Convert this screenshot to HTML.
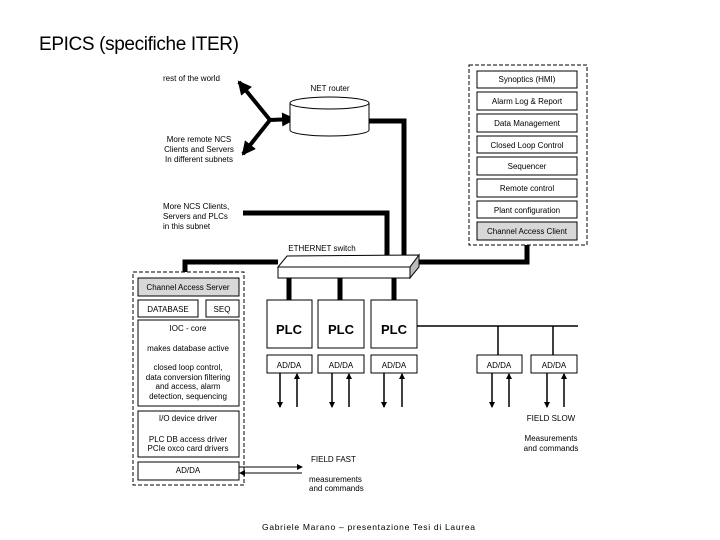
<!DOCTYPE html>
<html><head><meta charset="utf-8"><style>
html,body{margin:0;padding:0;background:#fff;width:720px;height:540px;overflow:hidden}
svg{display:block}
text{font-family:"Liberation Sans",sans-serif;fill:#000}
.s{font-size:8px}
.b{fill:#fff;stroke:#000;stroke-width:1}
.g{fill:#d8d8d8;stroke:#000;stroke-width:1}
.t{stroke:#000;stroke-width:5;fill:none}
.l{stroke:#000;stroke-width:1.5;fill:none}
</style></head><body>
<svg width="720" height="540" viewBox="0 0 720 540">
<defs>
<marker id="a" markerWidth="6" markerHeight="6" refX="5" refY="3" orient="auto" markerUnits="userSpaceOnUse"><path d="M0,0 L6,3 L0,6z" fill="#000"/></marker>
<marker id="A" markerWidth="14" markerHeight="14" refX="12" refY="7" orient="auto" markerUnits="userSpaceOnUse"><path d="M0,0 L14,7 L0,14z" fill="#000"/></marker>
</defs>
<text x="39" y="50" font-size="19" textLength="200">EPICS (specifiche  ITER)</text>

<text class="s" x="163" y="81" font-size="7.5">rest of the world</text>
<text class="s" x="199" y="142" text-anchor="middle">More remote NCS</text>
<text class="s" x="199" y="152" text-anchor="middle">Clients and Servers</text>
<text class="s" x="199" y="162" text-anchor="middle">In different subnets</text>
<text class="s" x="163" y="209">More NCS Clients,</text>
<text class="s" x="163" y="219">Servers and PLCs</text>
<text class="s" x="163" y="229">in this subnet</text>
<line x1="270" y1="120" x2="239" y2="82" stroke="#000" stroke-width="4" marker-end="url(#A)"/>
<line x1="270" y1="120" x2="243" y2="154" stroke="#000" stroke-width="4" marker-end="url(#A)"/>
<line x1="270" y1="120" x2="294" y2="119" stroke="#000" stroke-width="4" marker-end="url(#A)"/>

<text class="s" x="330" y="91" text-anchor="middle">NET router</text>
<path class="b" d="M290,103 L290,130 A39.5,6 0 0 0 369,130 L369,103"/>
<ellipse class="b" cx="329.5" cy="103" rx="39.5" ry="6"/>
<polyline class="t" points="369,121 404,121 404,256"/>
<polyline class="t" points="243,213 387,213 387,256"/>

<rect x="469" y="65" width="118" height="180" fill="none" stroke="#000" stroke-dasharray="4,2"/>
<g class="s" text-anchor="middle">
<rect class="b" x="477" y="71" width="100" height="17"/><text x="527" y="82">Synoptics (HMI)</text>
<rect class="b" x="477" y="92" width="100" height="18"/><text x="527" y="104">Alarm Log &amp; Report</text>
<rect class="b" x="477" y="114" width="100" height="18"/><text x="527" y="126">Data Management</text>
<rect class="b" x="477" y="136" width="100" height="17"/><text x="527" y="148">Closed Loop Control</text>
<rect class="b" x="477" y="157" width="100" height="18"/><text x="527" y="169">Sequencer</text>
<rect class="b" x="477" y="179" width="100" height="18"/><text x="527" y="191">Remote control</text>
<rect class="b" x="477" y="201" width="100" height="17"/><text x="527" y="213">Plant configuration</text>
<rect class="g" x="477" y="222" width="100" height="18"/><text x="527" y="234">Channel Access Client</text>
</g>
<polyline class="t" points="527,245 527,262 419,262"/>
<polyline class="t" points="278,262 185,262 185,272"/>

<text class="s" x="322" y="251" text-anchor="middle">ETHERNET switch</text>
<polygon class="b" points="287,256 419,255 410,267 278,267"/>
<polygon points="410,267 419,255 419,267 410,278" fill="#bbb" stroke="#000"/>
<rect class="b" x="278" y="267" width="132" height="11"/>
<line class="t" x1="289" y1="278" x2="289" y2="300"/>
<line class="t" x1="340" y1="278" x2="340" y2="300"/>
<line class="t" x1="394" y1="278" x2="394" y2="300"/>

<g font-weight="bold" font-size="13" text-anchor="middle">
<rect class="b" x="267" y="300" width="45" height="48"/><text x="289" y="334">PLC</text>
<rect class="b" x="318" y="300" width="46" height="48"/><text x="341" y="334">PLC</text>
<rect class="b" x="371" y="300" width="46" height="48"/><text x="394" y="334">PLC</text>
</g>
<line class="l" x1="417" y1="326" x2="578" y2="326"/>
<line class="l" x1="498" y1="326" x2="498" y2="355"/>
<line class="l" x1="553" y1="326" x2="553" y2="355"/>
<g class="s" text-anchor="middle">
<rect class="b" x="267" y="355" width="45" height="18"/><text x="289" y="368">AD/DA</text>
<rect class="b" x="318" y="355" width="46" height="18"/><text x="341" y="368">AD/DA</text>
<rect class="b" x="371" y="355" width="46" height="18"/><text x="394" y="368">AD/DA</text>
<rect class="b" x="477" y="355" width="45" height="18"/><text x="499" y="368">AD/DA</text>
<rect class="b" x="531" y="355" width="46" height="18"/><text x="554" y="368">AD/DA</text>
</g>
<g class="l" marker-end="url(#a)">
<line x1="280" y1="373" x2="280" y2="407"/><line x1="297" y1="407" x2="297" y2="374"/>
<line x1="332" y1="373" x2="332" y2="407"/><line x1="349" y1="407" x2="349" y2="374"/>
<line x1="384" y1="373" x2="384" y2="407"/><line x1="402" y1="407" x2="402" y2="374"/>
<line x1="492" y1="373" x2="492" y2="407"/><line x1="509" y1="407" x2="509" y2="374"/>
<line x1="547" y1="373" x2="547" y2="407"/><line x1="564" y1="407" x2="564" y2="374"/>
</g>
<text class="s" x="551" y="421" text-anchor="middle">FIELD SLOW</text>
<text class="s" x="551" y="441" text-anchor="middle">Measurements</text>
<text class="s" x="551" y="451" text-anchor="middle">and commands</text>

<rect x="133" y="272" width="111" height="213" fill="none" stroke="#000" stroke-dasharray="4,2"/>
<g class="s" text-anchor="middle">
<rect class="g" x="138" y="278" width="101" height="18"/><text x="188" y="290">Channel Access Server</text>
<rect class="b" x="138" y="300" width="60" height="17"/><text x="168" y="312">DATABASE</text>
<rect class="b" x="206" y="300" width="33" height="17"/><text x="222" y="312">SEQ</text>
<rect class="b" x="138" y="320" width="101" height="86"/>
<text x="188" y="331">IOC - core</text>
<text x="188" y="351">makes database active</text>
<text x="188" y="370">closed loop control,</text>
<text x="188" y="380">data conversion filtering</text>
<text x="188" y="389">and access, alarm</text>
<text x="188" y="399">detection, sequencing</text>
<rect class="b" x="138" y="411" width="101" height="46"/>
<text x="188" y="421">I/O device driver</text>
<text x="188" y="442">PLC DB access driver</text>
<text x="188" y="451">PCIe oxco card drivers</text>
<rect class="b" x="138" y="462" width="101" height="18"/><text x="188" y="473">AD/DA</text>
</g>
<line x1="239" y1="467" x2="302" y2="467" stroke="#000" marker-end="url(#a)"/>
<line x1="302" y1="473" x2="240" y2="473" stroke="#000" marker-end="url(#a)"/>
<text class="s" x="311" y="462">FIELD FAST</text>
<text class="s" x="309" y="482">measurements</text>
<text class="s" x="309" y="491">and commands</text>

<text x="262" y="530" font-size="8.5" textLength="213">Gabriele Marano  –  presentazione Tesi di Laurea</text>
</svg>
</body></html>
